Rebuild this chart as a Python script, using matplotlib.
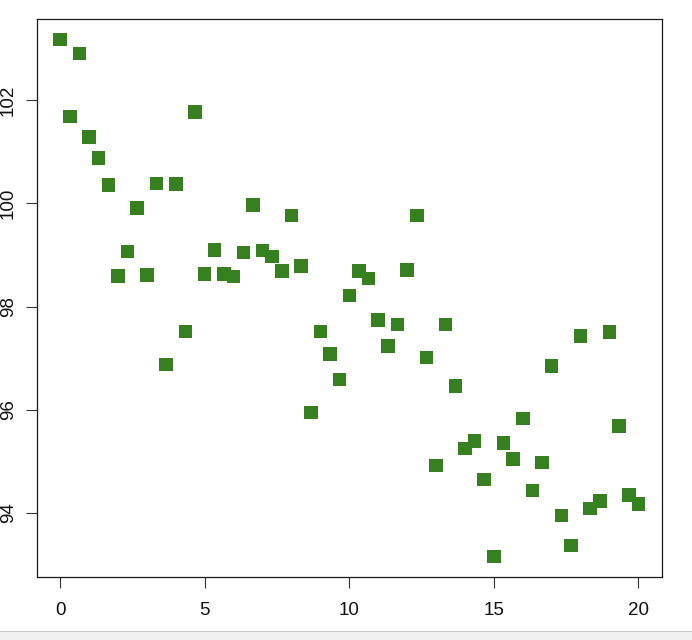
import matplotlib
matplotlib.use("Agg")
import matplotlib.pyplot as plt
from matplotlib.patches import Rectangle
import numpy as np

# x runs 0..20 in steps of 1/3
x_values = np.arange(61) / 3.0
y_values = [
    103.17, 101.68, 102.90, 101.28, 100.88, 100.35, 98.59, 99.07, 99.91, 98.61,
    100.38, 96.88, 100.37, 97.52, 101.77, 98.63, 99.10, 98.63, 98.58, 99.05,
    99.97, 99.09, 98.97, 98.69, 99.76, 98.79, 95.95, 97.52, 97.08, 96.59,
    98.21, 98.69, 98.54, 97.74, 97.24, 97.65, 98.71, 99.76, 97.01, 94.92,
    97.65, 96.46, 95.25, 95.39, 94.65, 93.16, 95.36, 95.05, 95.83, 94.44,
    94.98, 96.85, 93.95, 93.37, 97.43, 94.09, 94.23, 97.51, 95.69, 94.35,
    94.17,
]
x_ticks = [0, 5, 10, 15, 20]
y_ticks = [94, 96, 98, 100, 102]

plt.rcParams['font.family'] = ['Liberation Sans', 'DejaVu Sans']

fig = plt.figure(figsize=(6.92, 6.4), dpi=100)
ax = fig.add_axes([0.0535, 0.0984, 0.9025, 0.8719])

ax.scatter(x_values, y_values, marker='s', s=95, color='#36801f',
           edgecolors='none', zorder=3)

# R style 4% padding
xr = max(x_values) - min(x_values)
yr = max(y_values) - min(y_values)
ax.set_xlim(min(x_values) - 0.04 * xr, max(x_values) + 0.04 * xr)
ax.set_ylim(min(y_values) - 0.04 * yr, max(y_values) + 0.04 * yr)

ax.set_xticks(x_ticks)
ax.set_yticks(y_ticks)
ax.set_xticklabels([str(t) for t in x_ticks])
ax.set_yticklabels([str(t) for t in y_ticks], rotation=90, va='center')
ax.tick_params(axis='both', length=8, width=0.8, color='#333333',
               labelsize=13.5, labelcolor='#111111')
ax.tick_params(axis='x', pad=10)
ax.tick_params(axis='y', pad=6.5)

for sp in ax.spines.values():
    sp.set_linewidth(0.9)
    sp.set_color('#1a1a1a')

# light gray strip along the bottom
fig.patches.append(Rectangle((0, 0), 1, 8 / 640, transform=fig.transFigure,
                             facecolor='#f0f0f0', edgecolor='none', zorder=0))
fig.patches.append(Rectangle((0, 8 / 640), 1, 1.5 / 640, transform=fig.transFigure,
                             facecolor='#c8c8c8', edgecolor='none', zorder=0))

fig.savefig("out.png", dpi=100)
